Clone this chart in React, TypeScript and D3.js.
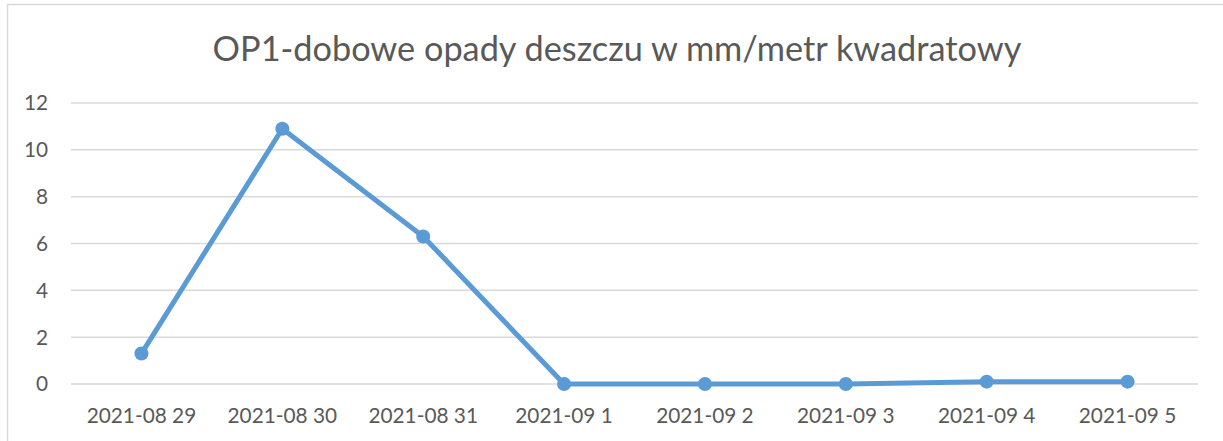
import React, { useEffect, useRef } from 'react';
import * as d3 from 'd3';

const title = 'OP1-dobowe opady deszczu w mm/metr kwadratowy';
const dates = [
  '2021-08 29',
  '2021-08 30',
  '2021-08 31',
  '2021-09 1',
  '2021-09 2',
  '2021-09 3',
  '2021-09 4',
  '2021-09 5',
];
const rainfall = [1.3, 10.9, 6.3, 0, 0, 0, 0.1, 0.1];
const yTicks = [0, 2, 4, 6, 8, 10, 12];

export default function App() {
  const ref = useRef<SVGSVGElement>(null);

  useEffect(() => {
    if (!ref.current) return;
    const svg = d3.select(ref.current);
    svg.selectAll('*').remove();

    const width = 1223;
    const height = 441;
    const margin = { top: 103, right: 25, bottom: 57, left: 71 };
    const font = 'Lato, "DejaVu Sans", sans-serif';
    const textColor = '#595959';

    svg.append('rect')
      .attr('width', width)
      .attr('height', height)
      .attr('fill', '#fff');

    // chart frame
    svg.append('rect')
      .attr('x', 7.5)
      .attr('y', 4.5)
      .attr('width', width)
      .attr('height', height)
      .attr('fill', 'none')
      .attr('stroke', '#d9d9d9')
      .attr('stroke-width', 1.5);

    const x = d3.scaleBand()
      .domain(dates)
      .range([margin.left, width - margin.right]);

    const y = d3.scaleLinear()
      .domain([0, 12])
      .range([height - margin.bottom, margin.top]);

    svg.append('text')
      .attr('x', 617)
      .attr('y', 61)
      .attr('text-anchor', 'middle')
      .attr('font-family', font)
      .attr('font-size', 34.3)
      .attr('fill', textColor)
      .text(title);

    // gridlines
    svg.append('g')
      .selectAll('line')
      .data(yTicks)
      .join('line')
      .attr('x1', margin.left)
      .attr('x2', width - margin.right)
      .attr('y1', d => y(d))
      .attr('y2', d => y(d))
      .attr('stroke', '#d9d9d9')
      .attr('stroke-width', 1.5);

    svg.append('g')
      .selectAll('text')
      .data(yTicks)
      .join('text')
      .attr('x', 48)
      .attr('y', d => y(d))
      .attr('dy', '0.36em')
      .attr('text-anchor', 'end')
      .attr('font-family', font)
      .attr('font-size', 20.8)
      .attr('fill', textColor)
      .text(d => d);

    svg.append('g')
      .selectAll('text')
      .data(dates)
      .join('text')
      .attr('x', d => x(d)! + x.bandwidth() / 2)
      .attr('y', 423)
      .attr('text-anchor', 'middle')
      .attr('font-family', font)
      .attr('font-size', 20.8)
      .attr('fill', textColor)
      .text(d => d);

    const line = d3.line<number>()
      .x((d, i) => x(dates[i])! + x.bandwidth() / 2)
      .y(d => y(d));

    svg.append('path')
      .datum(rainfall)
      .attr('d', line)
      .attr('fill', 'none')
      .attr('stroke', '#5b9bd5')
      .attr('stroke-width', 5)
      .attr('stroke-linejoin', 'round')
      .attr('stroke-linecap', 'round');

    svg.append('g')
      .selectAll('circle')
      .data(rainfall)
      .join('circle')
      .attr('cx', (d, i) => x(dates[i])! + x.bandwidth() / 2)
      .attr('cy', d => y(d))
      .attr('r', 7)
      .attr('fill', '#5b9bd5');
  }, []);

  return (
    <svg
      ref={ref}
      width={1223}
      height={441}
      style={{ position: 'absolute', left: 0, top: 0, display: 'block' }}
    />
  );
}
